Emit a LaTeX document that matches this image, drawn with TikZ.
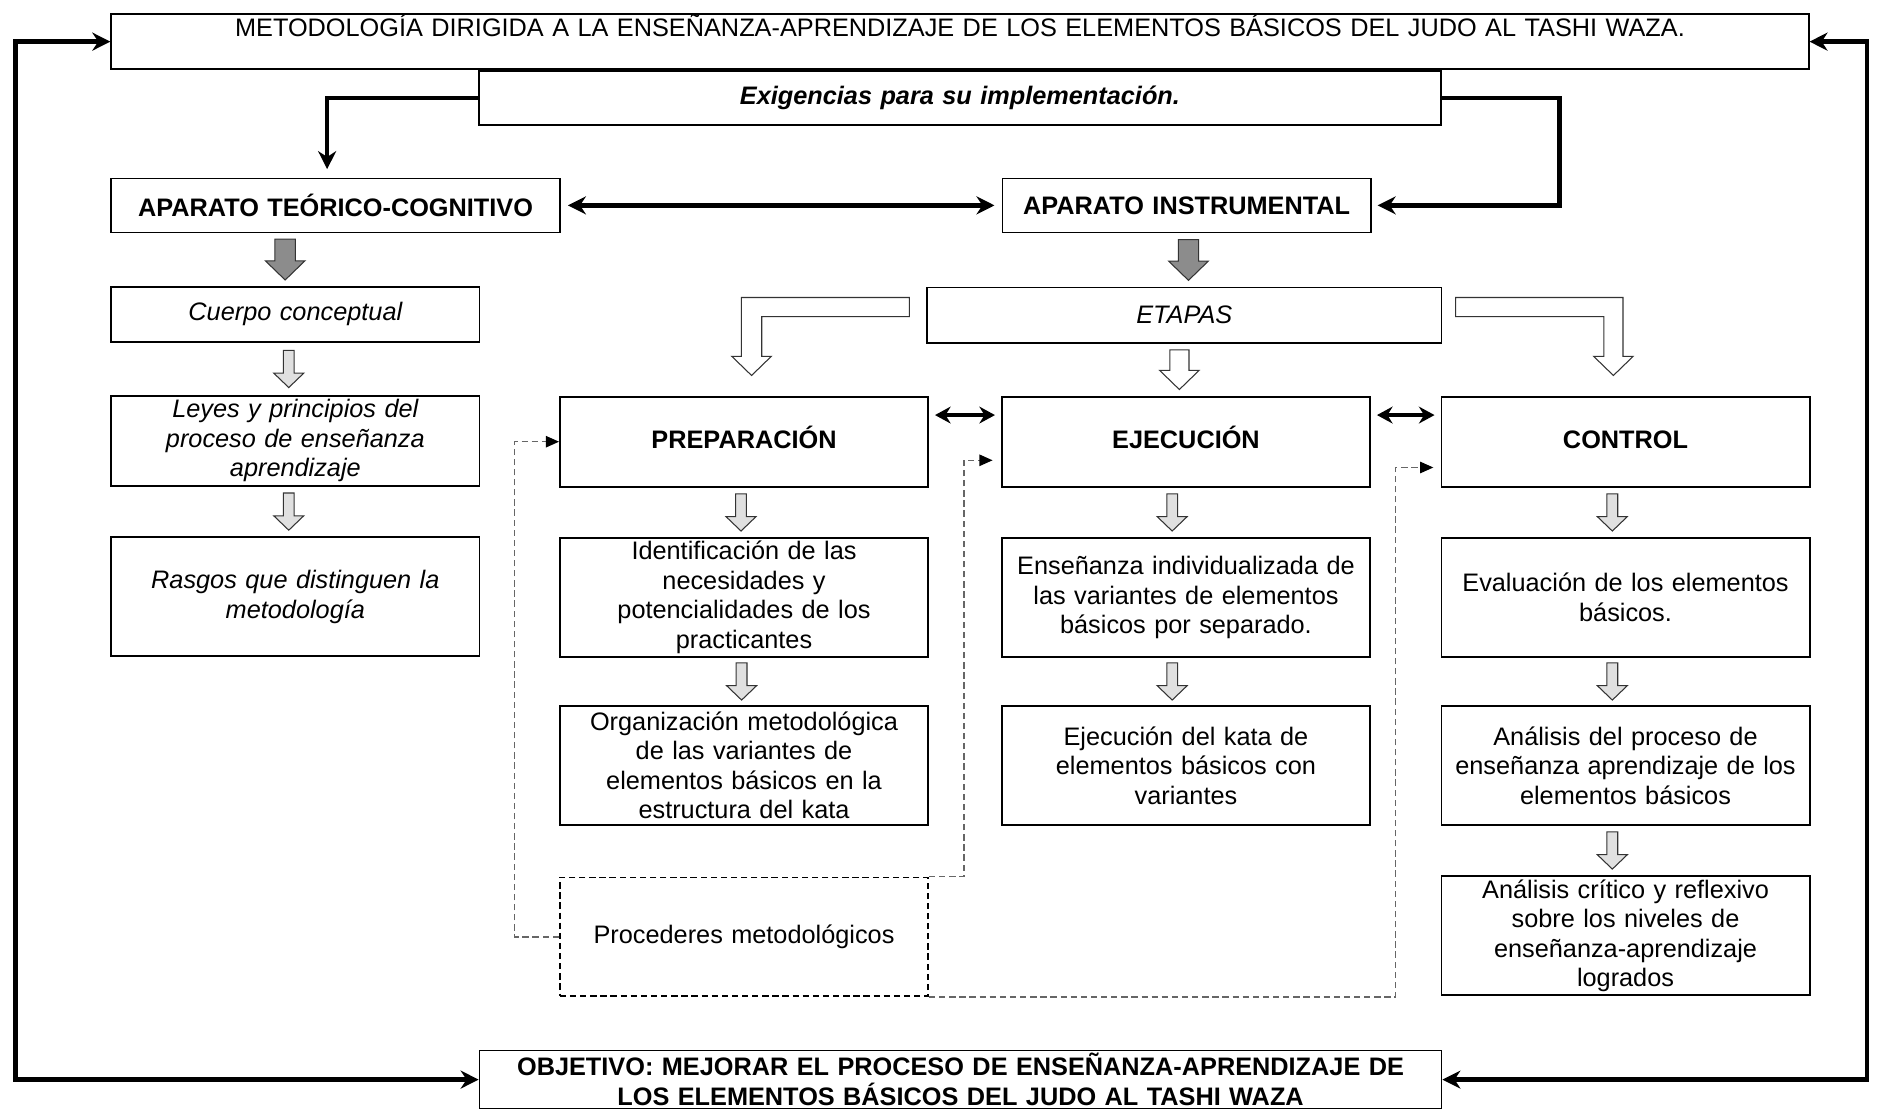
\documentclass[tikz,border=0pt]{standalone}
\usepackage{fontspec}
\setmainfont{Liberation Sans}
\usepackage{tikz}
\usetikzlibrary{arrows.meta, positioning, calc}
\tikzset{
  box/.style={rectangle, draw=black, line width=0.8pt, minimum width=6.14cm,
    text width=5.9cm, align=center, inner sep=1pt, font=\fontsize{12}{14}\selectfont},
  itbox/.style={font=\itshape\fontsize{12}{14}\selectfont},
  bfbox/.style={font=\bfseries\fontsize{12}{14}\selectfont},
  headbox/.style={box, bfbox, minimum height=0.9cm},
  smallbox/.style={box, minimum height=0.92cm},
  midbox/.style={box, minimum height=1.5cm},
  stagebox/.style={midbox, bfbox, text height=9pt, text depth=2.5pt},
  bigbox/.style={box, minimum height=1.98cm},
  dashbox/.style={bigbox, dash pattern=on 3pt off 1.8pt},
  thickarrow/.style={-{Stealth[length=0.3cm, width=0.3cm]}, line width=2.2pt, line join=miter},
  thickboth/.style={{Stealth[length=0.3cm, width=0.3cm]}-{Stealth[length=0.3cm, width=0.3cm]},
    line width=2.2pt, line join=miter},
  thinboth/.style={{Stealth[length=0.26cm, width=0.28cm]}-{Stealth[length=0.26cm, width=0.28cm]},
    line width=1.5pt},
  dashconn/.style={-{Triangle[length=0.22cm, width=0.19cm, color=black]}, draw=black!60,
    line width=0.7pt, dash pattern=on 3pt off 1.8pt},
  blockarr/.style={draw=black!80, line width=0.5pt, line join=miter},
  pics/darkdown/.style={code={
    \filldraw[blockarr, fill=black!45] (-0.17,0.34) -- (0.17,0.34) -- (0.17,-0.02) -- (0.33,-0.02)
      -- (0,-0.34) -- (-0.33,-0.02) -- (-0.17,-0.02) -- cycle;
  }},
  pics/lightdown/.style={code={
    \filldraw[blockarr, fill=black!12] (-0.09,0.31) -- (0.09,0.31) -- (0.09,-0.07) -- (0.25,-0.07)
      -- (0,-0.31) -- (-0.25,-0.07) -- (-0.09,-0.07) -- cycle;
  }},
  pics/whitedown/.style={code={
    \filldraw[blockarr, fill=white] (-0.16,0.33) -- (0.16,0.33) -- (0.16,-0.01) -- (0.33,-0.01)
      -- (0,-0.33) -- (-0.33,-0.01) -- (-0.16,-0.01) -- cycle;
  }}
}

\begin{document}
\begin{tikzpicture}
\useasboundingbox (0,0) rectangle (31.36,-18.48);

% encabezado
\node (top) [box, anchor=north west, minimum width=28.3cm, minimum height=0.92cm, text width=27.5cm,
  font=\fontsize{12}{14}\selectfont, text height=0.3cm, text depth=0.46cm, inner ysep=0.08cm]
  at (1.84,-0.22) {METODOLOGÍA DIRIGIDA A LA ENSEÑANZA-APRENDIZAJE DE LOS ELEMENTOS BÁSICOS DEL JUDO AL TASHI WAZA.};
\node (exig) [box, below=0pt of top, minimum width=16.04cm, minimum height=0.9cm, text width=15.5cm,
  font=\bfseries\itshape\fontsize{12}{14}\selectfont] {Exigencias para su implementación.};
\node (teo) [headbox, anchor=north west, minimum width=7.48cm, text width=7.3cm] at (1.84,-2.96)
  {APARATO TEÓRICO-COGNITIVO};
\node (ins) [headbox, anchor=north west] at (16.70,-2.96) {APARATO INSTRUMENTAL};

% aparato teorico-cognitivo
\node (cuerpo) [smallbox, itbox, below=0.88cm of teo.south west, anchor=north west] {Cuerpo conceptual};
\node (leyes)  [midbox, itbox, below=0.87cm of cuerpo]
  {Leyes y principios del\\proceso de enseñanza\\aprendizaje};
\node (rasgos) [bigbox, itbox, below=0.83cm of leyes] {Rasgos que distinguen la\\metodología};

% aparato instrumental
\node (etapas) [smallbox, itbox, anchor=north west, minimum width=8.58cm] at (15.44,-4.78) {ETAPAS};
\node (prep) [stagebox, anchor=north west] at (9.32,-6.60) {PREPARACIÓN};
\node (ejec) [stagebox, right=1.20cm of prep] {EJECUCIÓN};
\node (ctrl) [stagebox, right=1.16cm of ejec] {CONTROL};

\node (ident)  [bigbox, below=0.83cm of prep]
  {Identificación de las\\necesidades y\\potencialidades de los\\practicantes};
\node (organ)  [bigbox, below=0.79cm of ident]
  {Organización metodológica\\de las variantes de\\elementos básicos en la\\estructura del kata};
\node (proced) [dashbox, below=0.85cm of organ] {Procederes metodológicos};

\node (ensen)  [bigbox, below=0.83cm of ejec]
  {Enseñanza individualizada de\\las variantes de elementos\\básicos por separado.};
\node (ejkata) [bigbox, below=0.79cm of ensen]
  {Ejecución del kata de\\elementos básicos con\\variantes};

\node (eval)     [bigbox, below=0.83cm of ctrl] {Evaluación de los elementos\\básicos.};
\node (analisis) [bigbox, below=0.79cm of eval]
  {Análisis del proceso de\\enseñanza aprendizaje de los\\elementos básicos};
\node (critico)  [bigbox, below=0.83cm of analisis]
  {Análisis crítico y reflexivo\\sobre los niveles de\\enseñanza-aprendizaje\\logrados};

% objetivo
\node (objetivo) [box, anchor=north west, minimum width=16.04cm, minimum height=0.97cm, text width=15.8cm,
  font=\bfseries\fontsize{12}{14}\selectfont] at (7.98,-17.5)
  {OBJETIVO: MEJORAR EL PROCESO DE ENSEÑANZA-APRENDIZAJE DE\\LOS ELEMENTOS BÁSICOS DEL JUDO AL TASHI WAZA};

% flechas de bloque
\pic[xshift=-0.17cm] at ($(teo.south -| cuerpo.north)!0.5!(cuerpo.north)$) {darkdown};
\pic[xshift=0.03cm] at ($(ins.south)!0.5!(etapas.north -| ins.south)$) {darkdown};
\pic[xshift=-0.11cm] at ($(cuerpo.south)!0.5!(leyes.north)$) {lightdown};
\pic[xshift=-0.11cm] at ($(leyes.south)!0.5!(rasgos.north)$) {lightdown};
\pic[xshift=-0.11cm] at ($(etapas.south -| ejec.north)!0.5!(ejec.north)$) {whitedown};
\pic[xshift=-0.05cm] at ($(prep.south)!0.5!(ident.north)$) {lightdown};
\pic[xshift=-0.04cm] at ($(ident.south)!0.5!(organ.north)$) {lightdown};
\pic[xshift=-0.23cm] at ($(ejec.south)!0.5!(ensen.north)$) {lightdown};
\pic[xshift=-0.23cm] at ($(ensen.south)!0.5!(ejkata.north)$) {lightdown};
\pic[xshift=-0.22cm] at ($(ctrl.south)!0.5!(eval.north)$) {lightdown};
\pic[xshift=-0.22cm] at ($(eval.south)!0.5!(analisis.north)$) {lightdown};
\pic[xshift=-0.22cm] at ($(analisis.south)!0.5!(critico.north)$) {lightdown};

% flechas acodadas desde ETAPAS
\begin{scope}[shift={(etapas.north west)}]
  \filldraw[blockarr, fill=white] (-0.28,-0.18) -- (-3.08,-0.18) -- (-3.08,-1.16) -- (-3.24,-1.16)
    -- (-2.91,-1.48) -- (-2.58,-1.16) -- (-2.74,-1.16) -- (-2.74,-0.50) -- (-0.28,-0.50) -- cycle;
\end{scope}
\begin{scope}[shift={(etapas.north east)}]
  \filldraw[blockarr, fill=white] (0.22,-0.18) -- (3.01,-0.18) -- (3.01,-1.16) -- (3.18,-1.16)
    -- (2.85,-1.48) -- (2.52,-1.16) -- (2.69,-1.16) -- (2.69,-0.50) -- (0.22,-0.50) -- cycle;
\end{scope}

% conectores
\draw[thickarrow, shorten >=0.14cm] (exig.west) -| ([xshift=-0.14cm]teo.north);
\draw[thickarrow, shorten >=0.1cm] (exig.east) -- ++(1.96,0) |- (ins.east);
\draw[thickboth, shorten <=0.12cm, shorten >=0.12cm] (teo.east) -- (ins.west);
\draw[thickboth] (top.west) -- ++(-1.58,0) |- (objetivo.west);
\draw[thickboth] (top.east) -- ++(0.96,0) |- (objetivo.east);

\draw[thinboth, shorten <=0.1cm, shorten >=0.1cm] ([yshift=-0.32cm]prep.north east) -- ([yshift=-0.32cm]ejec.north west);
\draw[thinboth, shorten <=0.1cm, shorten >=0.1cm] ([yshift=-0.32cm]ejec.north east) -- ([yshift=-0.32cm]ctrl.north west);

\draw[dashconn] (proced.west) -- ++(-0.74,0) |- (prep.west);
\draw[dashconn, shorten >=0.14cm] (proced.north east) -- ++(0.58,0) |- ([yshift=-0.31cm]ejec.west);
\draw[dashconn, shorten >=0.12cm] (proced.south east) -- ++(7.78,0) |- ([yshift=-0.43cm]ctrl.west);
\end{tikzpicture}
\end{document}
